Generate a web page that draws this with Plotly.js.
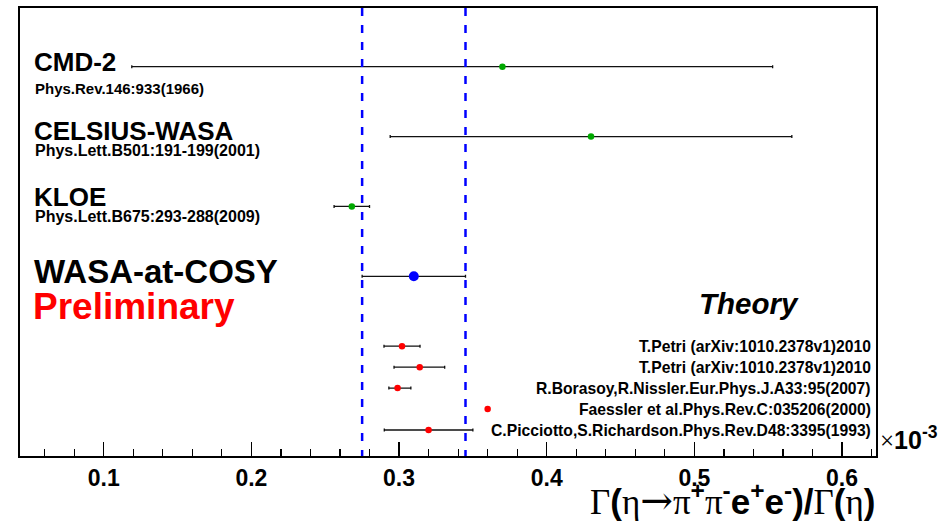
<!DOCTYPE html>
<html>
<head>
<meta charset="utf-8">
<script src="https://cdn.plot.ly/plotly-3.0.1.min.js"></script>
<style>html,body{margin:0;padding:0;background:#fff;}#chart{width:941px;height:521px;}</style>
</head>
<body>
<div id="chart"></div>
<script>
// ---- data (values in units of 1e-3) ----
const expNames   = ['CMD-2', 'CELSIUS-WASA', 'KLOE'];
const expRefs    = ['Phys.Rev.146:933(1966)', 'Phys.Lett.B501:191-199(2001)', 'Phys.Lett.B675:293-288(2009)'];
const expRows    = [6, 5, 4];
const expValues  = [0.370, 0.430, 0.268];
const expErrMinus= [0.251, 0.136, 0.012];
const expErrPlus = [0.183, 0.136, 0.012];

const wasaName   = 'WASA-at-COSY';
const wasaRow    = [3];
const wasaValue  = [0.310];
const wasaErr    = [0.035];

const theoryRefs = ['T.Petri (arXiv:1010.2378v1)2010',
                    'T.Petri (arXiv:1010.2378v1)2010',
                    'R.Borasoy,R.Nissler.Eur.Phys.J.A33:95(2007)',
                    'Faessler et al.Phys.Rev.C:035206(2000)',
                    'C.Picciotto,S.Richardson.Phys.Rev.D48:3395(1993)'];
const theoryRows     = [2.0, 1.7, 1.4, 1.1, 0.8];
const theoryValues   = [0.302, 0.314, 0.299, 0.360, 0.320];
const theoryErrMinus = [0.0122, 0.0174, 0.0059, 0, 0.030];
const theoryErrPlus  = [0.0122, 0.0169, 0.0090, 0, 0.030];

const xTickVals = [0.1, 0.2, 0.3, 0.4, 0.5, 0.6];
const xTickText = ['0.1', '0.2', '0.3', '0.4', '0.5', '0.6'];

// ---- layout helpers (pixel geometry of the frame) ----
const W = 941, H = 521;
const L = 20, R = 876, T = 8, B = 456;
const px2paperX = p => (p - L) / (R - L);
const px2paperY = p => (B - p) / (B - T);

const SANS = 'Liberation Sans, Arial, Helvetica, sans-serif';
const serif = s => '<span style="font-family:Liberation Serif, serif;font-weight:normal">' + s + '</span>';
const arrow = '<span style="font-family:DejaVu Serif, serif;font-weight:normal;font-size:39px">\u2192</span>';

const errStyle = {color: '#111111', thickness: 1.3, width: 1.5};

const traces = [
  {
    x: expValues, y: expRows, type: 'scatter', mode: 'markers',
    marker: {color: '#00a800', size: 6.5},
    error_x: Object.assign({type: 'data', symmetric: false, array: expErrPlus, arrayminus: expErrMinus}, errStyle),
    hoverinfo: 'x'
  },
  {
    x: wasaValue, y: wasaRow, type: 'scatter', mode: 'markers',
    marker: {color: '#0000ff', size: 10},
    error_x: Object.assign({type: 'data', symmetric: true, array: wasaErr}, errStyle),
    hoverinfo: 'x'
  },
  {
    x: theoryValues, y: theoryRows, type: 'scatter', mode: 'markers',
    marker: {color: '#ff0000', size: 6.5},
    error_x: Object.assign({type: 'data', symmetric: false, array: theoryErrPlus, arrayminus: theoryErrMinus}, errStyle),
    hoverinfo: 'x'
  }
];

// dashed band of the WASA-at-COSY result
const bandLo = wasaValue[0] - wasaErr[0];
const bandHi = wasaValue[0] + wasaErr[0];
const dashLine = x => ({type: 'line', xref: 'x', yref: 'paper', x0: x, x1: x, y0: 1, y1: 0,
  line: {color: '#0000ff', width: 2.5, dash: '8px,9px'}, layer: 'above'});

const ann = [];
function addText(text, xp, yp, size, opts) {
  ann.push(Object.assign({
    text: text, x: px2paperX(xp), y: px2paperY(yp), xref: 'paper', yref: 'paper',
    xanchor: 'left', yanchor: 'middle', showarrow: false,
    font: {family: SANS, size: size, color: 'black', weight: 'bold'}
  }, opts || {}));
}
// experiment labels
const nameCenters = [62.5, 130.5, 197];
const refCenters  = [88.7, 150, 216];
const refSizes    = [15, 16, 16];
expNames.forEach((n, i) => addText(n, 31.5, nameCenters[i], 26));
expRefs.forEach((n, i) => addText(n, 32.5, refCenters[i], refSizes[i]));
addText(wasaName, 31.5, 271.7, 33);
addText('Preliminary', 31, 306.7, 37, {font: {family: SANS, size: 37, color: '#ff0000', weight: 'bold'}});
addText('Theory', 748.8, 303.7, 29.5, {xanchor: 'center', font: {family: SANS, size: 29.5, color: 'black', weight: 'bold', style: 'italic'}});
theoryRefs.forEach((n, i) => ann.push({
  text: n, x: px2paperX(873), y: theoryRows[i], xref: 'paper', yref: 'y',
  xanchor: 'right', yanchor: 'middle', showarrow: false,
  font: {family: SANS, size: 15.7, color: 'black', weight: 'bold'}
}));
// axis title (right aligned, ROOT style)
addText(serif('\u0393') + '(' + serif('\u03b7') + arrow + serif('\u03c0') + '<sup>+</sup>' + serif('\u03c0') + '<sup>-</sup>e<sup>+</sup>e<sup>-</sup>)/' + serif('\u0393') + '(' + serif('\u03b7') + ')',
        877, 500, 35, {xanchor: 'right'});
// exponent label
addText(serif('\u00d7') + '10<sup>-3</sup>', 878, 438, 25);

const layout = {
  width: W, height: H,
  margin: {l: L, r: W - R, t: T, b: H - B, pad: 0},
  paper_bgcolor: '#ffffff', plot_bgcolor: '#ffffff',
  showlegend: false,
  xaxis: {
    range: [0.0433, 0.623],
    tickmode: 'array', tickvals: xTickVals, ticktext: xTickText,
    ticks: 'inside', ticklen: 14, tickwidth: 1.5, tickcolor: '#000',
    minor: {dtick: 0.02, tick0: 0, ticks: 'inside', ticklen: 7, tickwidth: 1.2, tickcolor: '#000', showgrid: false},
    showline: true, linecolor: '#000', linewidth: 2, mirror: true,
    showgrid: false, zeroline: false,
    tickfont: {family: SANS, size: 23, color: '#000', weight: 'bold'}
  },
  yaxis: {
    range: [0.428, 6.84],
    showline: true, linecolor: '#000', linewidth: 2, mirror: true,
    showticklabels: false, ticks: '', showgrid: false, zeroline: false
  },
  shapes: [dashLine(bandLo), dashLine(bandHi)],
  annotations: ann
};

Plotly.newPlot('chart', traces, layout, {displayModeBar: false, staticPlot: true});
</script>
</body>
</html>
